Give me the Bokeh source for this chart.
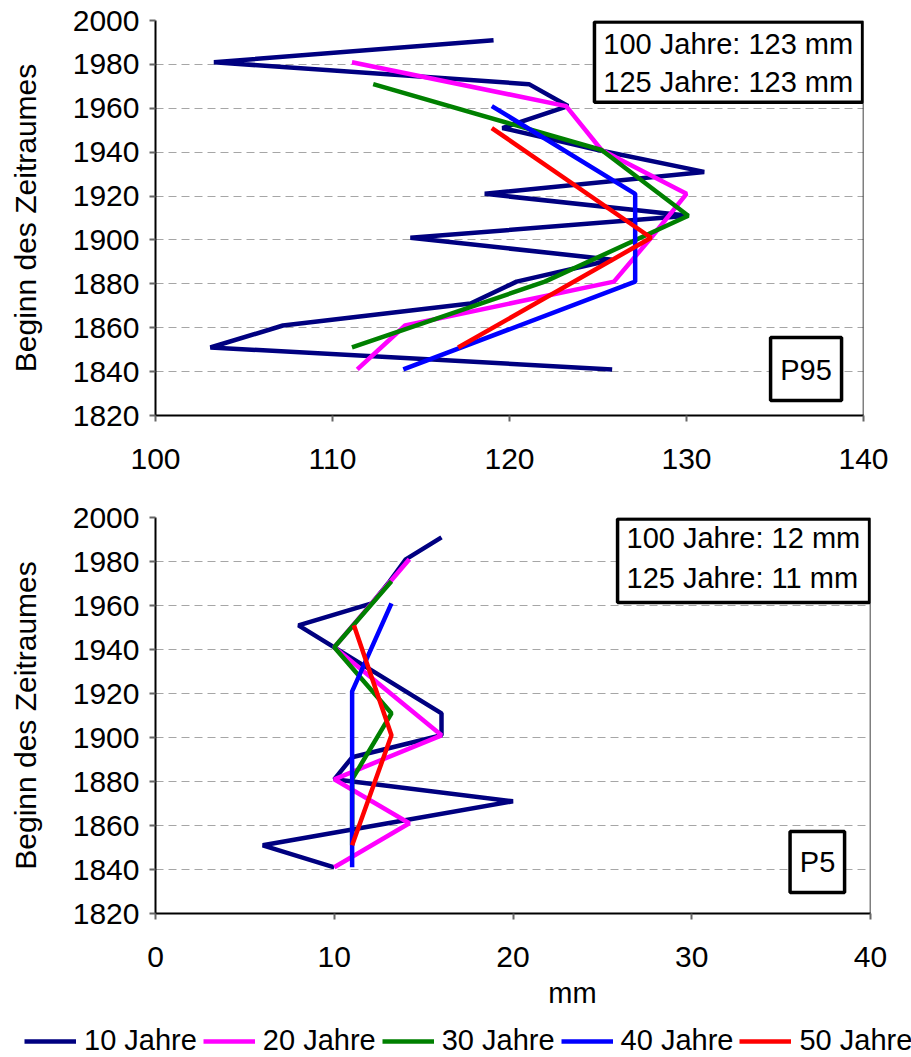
from bokeh.plotting import figure
from bokeh.models import Range1d, Span, BoxAnnotation, Label, Legend, LegendItem, FixedTicker
from bokeh.layouts import column, row
from bokeh.embed import file_html
from bokeh.resources import INLINE

FONT = "Liberation Sans"

# ---- data ----
years_10 = [1841, 1851, 1861, 1871, 1881, 1891, 1901, 1911, 1921, 1931, 1941, 1951, 1961, 1971, 1981, 1991]
years_20 = [1841, 1861, 1881, 1901, 1921, 1941, 1961, 1981]
years_30 = [1851, 1881, 1911, 1941, 1971]
years_40 = [1841, 1881, 1921, 1961]
years_50 = [1851, 1901, 1951]

p95_10 = [125.8, 103.1, 107.2, 117.8, 120.4, 125.8, 114.4, 130.1, 118.6, 131.0, 125.0, 119.6, 123.3, 121.1, 103.3, 119.1]
p95_20 = [111.4, 114.1, 125.9, 128.0, 130.0, 125.2, 123.2, 111.1]
p95_30 = [111.1, 122.0, 130.1, 125.2, 112.3]
p95_40 = [114.0, 127.1, 127.1, 119.0]
p95_50 = [117.1, 128.0, 119.0]

p5_10 = [10.0, 6.0, 13.0, 20.0, 10.0, 11.0, 16.0, 16.0, 14.0, 12.0, 10.0, 8.0, 12.1, 13.1, 14.0, 16.0]
p5_20 = [10.0, 14.2, 10.0, 16.0, 13.0, 10.0, 12.1, 14.2]
p5_30 = [11.0, 11.0, 13.2, 10.0, 13.2]
p5_40 = [11.0, 11.0, 11.0, 13.2]
p5_50 = [11.0, 13.2, 11.1]

series_labels = ["10 Jahre", "20 Jahre", "30 Jahre", "40 Jahre", "50 Jahre"]
series_colors = ["#000080", "#FF00FF", "#008000", "#0000FF", "#FF0000"]
series_years = [years_10, years_20, years_30, years_40, years_50]

y_ticks = [1820, 1840, 1860, 1880, 1900, 1920, 1940, 1960, 1980, 2000]
x_ticks_p95 = [100, 110, 120, 130, 140]
x_ticks_p5 = [0, 10, 20, 30, 40]

y_label = "Beginn des Zeitraumes"
x_label = "mm"
info_p95 = ["100 Jahre: 123 mm", "125 Jahre: 123 mm"]
info_p5 = ["100 Jahre: 12 mm", "125 Jahre: 11 mm"]

LEFT = 155


def make_panel(values, xr, x_ticks, height, top, bottom, right, info, info_box, info_text_x, info_text_y, tag, tag_box, tag_pos):
    p = figure(width=911, height=height, x_range=Range1d(*xr), y_range=Range1d(1820, 2000),
               output_backend="svg", toolbar_location=None,
               min_border_left=LEFT, min_border_right=right, min_border_top=top, min_border_bottom=bottom)
    p.outline_line_color = None
    p.background_fill_color = "white"
    p.border_fill_color = "white"
    p.xgrid.visible = False
    p.ygrid.grid_line_color = "#a6a6a6"
    p.ygrid.grid_line_dash = "8 5"
    p.ygrid.grid_line_width = 1
    p.xaxis.ticker = FixedTicker(ticks=x_ticks)
    p.yaxis.ticker = FixedTicker(ticks=y_ticks)
    for ax in p.axis:
        ax.axis_line_color = "black"
        ax.axis_line_width = 2
        ax.major_tick_line_color = "#666666"
        ax.major_tick_line_width = 2
        ax.major_tick_out = 6
        ax.major_tick_in = 0
        ax.minor_tick_line_color = None
        ax.major_label_text_font = FONT
        ax.major_label_text_font_size = "30px"
        ax.major_label_text_color = "black"
        ax.axis_label_text_font = FONT
        ax.axis_label_text_font_size = "30px"
        ax.axis_label_text_font_style = "normal"
        ax.axis_label_text_color = "black"
    p.xaxis.major_label_standoff = 27
    p.yaxis.major_label_standoff = 10
    p.yaxis.axis_label = y_label
    p.yaxis.axis_label_standoff = 28

    p.add_layout(Span(location=xr[1], dimension="height", line_color="black", line_width=1.5))

    for yrs, vals, col in zip(series_years, values, series_colors):
        p.line(x=vals, y=yrs, line_color=col, line_width=4.5)

    l, r_, t, b = info_box
    p.add_layout(BoxAnnotation(left=l, right=r_, top=t, bottom=b, fill_color="white", fill_alpha=1,
                               line_color="black", line_alpha=1, line_width=3.5))
    for txt, ty in zip(info, info_text_y):
        p.add_layout(Label(x=info_text_x, y=ty, text=txt, text_font=FONT, text_font_size="29px",
                           text_baseline="middle", text_align="left", text_color="black"))
    l, r_, t, b = tag_box
    p.add_layout(BoxAnnotation(left=l, right=r_, top=t, bottom=b, fill_color="white", fill_alpha=1,
                               line_color="black", line_alpha=1, line_width=3.5))
    p.add_layout(Label(x=tag_pos[0], y=tag_pos[1], text=tag, text_font=FONT, text_font_size="29px",
                       text_baseline="middle", text_align="center", text_color="black"))
    return p


p1 = make_panel([p95_10, p95_20, p95_30, p95_40, p95_50], (100, 140), x_ticks_p95,
                490, 20, 75, 48, info_p95, (124.8, 139.95, 1999.3, 1962.8), 125.3, [1989.5, 1972.2],
                "P95", (134.75, 138.76, 1855.5, 1826.8), (136.75, 1840.9))

p2 = make_panel([p5_10, p5_20, p5_30, p5_40, p5_50], (0, 40), x_ticks_p5,
                485, 27, 62, 41, info_p5, (25.85, 39.95, 1999.3, 1961.4), 26.35, [1990.9, 1972.3],
                "P5", (35.5, 38.55, 1857.3, 1829.5), (37.04, 1843.2))

# bottom strip: x label and legend (x data units == page pixels)
p3 = figure(width=911, height=82, x_range=Range1d(0, 911), y_range=Range1d(0, 82),
            output_backend="svg", toolbar_location=None, min_border=0)
p3.axis.visible = False
p3.grid.visible = False
p3.outline_line_color = None
p3.add_layout(Label(x=572, y=65, text=x_label, text_font=FONT, text_font_size="29px",
                    text_align="center", text_baseline="middle", text_color="black"))
items = []
for lab, col in zip(series_labels, series_colors):
    r = p3.line(x=[0, 1], y=[-100, -100], line_color=col, line_width=4.5)
    items.append(LegendItem(label=lab, renderers=[r]))
legend = Legend(items=items, orientation="horizontal", location=(24, 0),
                glyph_width=52, glyph_height=24, label_standoff=8, spacing=6,
                padding=0, margin=0, border_line_color=None, background_fill_alpha=0,
                label_text_font=FONT, label_text_font_size="29px", label_text_color="black")
p3.add_layout(legend, "center")

layout = column(row(p1, spacing=0), row(p2, spacing=0), row(p3, spacing=0), spacing=0)
open("out.html", "w").write(file_html(layout, INLINE))
